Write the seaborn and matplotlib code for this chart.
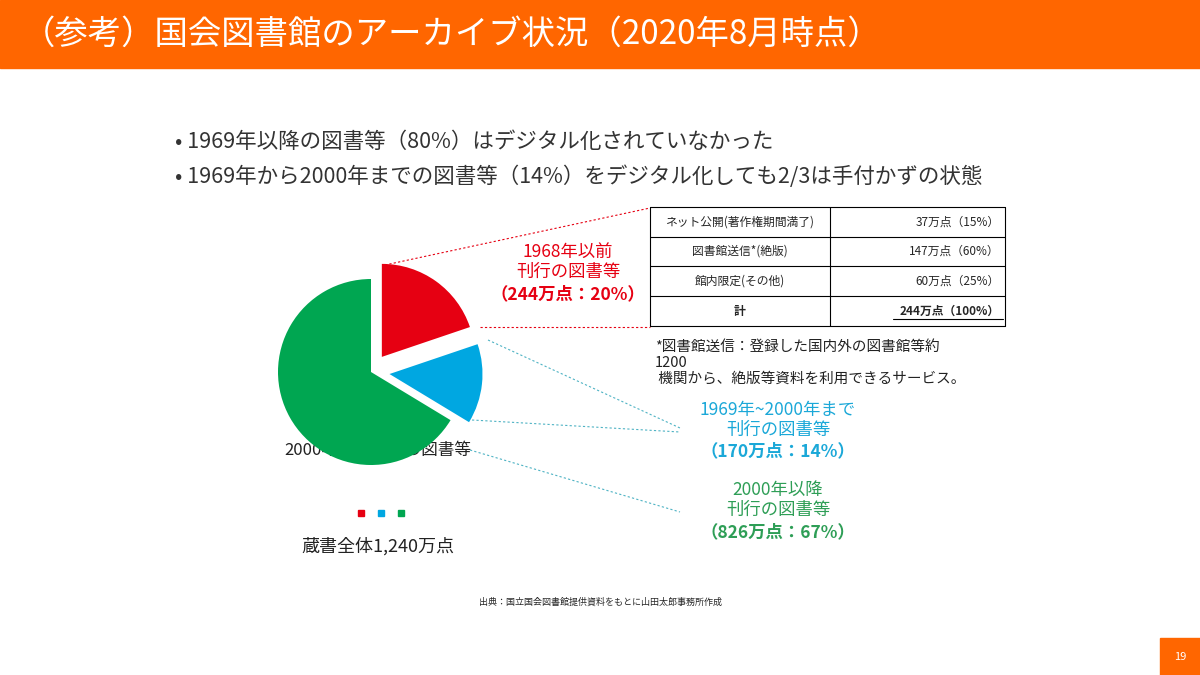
import matplotlib.pyplot as plt
import seaborn as sns
from matplotlib.patches import Rectangle

sns.set_theme(style="white")
plt.rcParams['font.family'] = ['Noto Sans CJK JP', 'DejaVu Sans']

# data
categories = ['1968年以前刊行の図書等', '1969年~2000年まで刊行の図書等', '2000年以降刊行の図書等']
shares = [20, 14, 67]
counts = [244, 170, 826]
colors = ['#E60012', '#00A7E1', '#00A651']
table_rows = ['ネット公開(著作権期間満了)', '図書館送信*(絶版)', '館内限定(その他)', '計']
table_vals = ['37万点（15%）', '147万点（60%）', '60万点（25%）', '244万点（100%）']

W, H = 1200, 675
fig = plt.figure(figsize=(12, 6.75), dpi=100)
bg = fig.add_axes([0, 0, 1, 1])
bg.set_xlim(0, W)
bg.set_ylim(H, 0)
bg.axis('off')

# title bar
bg.add_patch(Rectangle((0, 0), W, 68, color='#FF6600'))
bg.text(22, 34, '（参考）国会図書館のアーカイブ状況（2020年8月時点）', color='white',
        fontsize=24, va='center')
bg.add_patch(Rectangle((1160, 638), 40, 37, color='#FF6600'))
bg.text(1180, 657, '19', color='white', fontsize=8, ha='center', va='center')

bg.text(175, 142, '• 1969年以降の図書等（80%）はデジタル化されていなかった', fontsize=15.5, va='center', color='#333333')
bg.text(175, 177, '• 1969年から2000年までの図書等（14%）をデジタル化しても2/3は手付かずの状態', fontsize=15.5, va='center', color='#333333')

# pie
R = 93
cx, cy = 371, 372
side = 2.5 * R
pax = fig.add_axes([(cx - side / 2) / W, (H - cy - side / 2) / H, side / W, side / H])
pax.pie(shares, colors=colors, startangle=90, counterclock=False,
        explode=[0.2, 0.2, 0], wedgeprops=dict(linewidth=0))
pax.set_aspect('auto')

# connector lines
bg.plot([385, 650], [265, 208], ls=(0, (2, 2)), color=colors[0], lw=0.8)
bg.plot([480, 650], [327, 327], ls=(0, (2, 2)), color=colors[0], lw=0.8)
bg.plot([488, 680], [340, 428], ls=(0, (2, 2)), color='#4FB3C4', lw=0.8)
bg.plot([472, 680], [420, 432], ls=(0, (2, 2)), color='#4FB3C4', lw=0.8)
bg.plot([470, 680], [450, 512], ls=(0, (2, 2)), color='#4FB3C4', lw=0.8)

# labels
bg.text(568, 262, '1968年以前\n刊行の図書等', color=colors[0], fontsize=12.5, ha='center', va='center', linespacing=1.2)
bg.text(568, 294, f'（{counts[0]}万点：{shares[0]}%）', color=colors[0], fontsize=12.5, ha='center', va='center', weight='bold')
bg.text(778, 420, '1969年~2000年まで\n刊行の図書等', color='#1BA8D8', fontsize=12.5, ha='center', va='center', linespacing=1.15)
bg.text(778, 451, f'（{counts[1]}万点：{shares[1]}%）', color='#1BA8D8', fontsize=12.5, ha='center', va='center', weight='bold')
bg.text(778, 500, '2000年以降\n刊行の図書等', color='#2E9E56', fontsize=12.5, ha='center', va='center', linespacing=1.15)
bg.text(778, 532, f'（{counts[2]}万点：{shares[2]}%）', color='#2E9E56', fontsize=12.5, ha='center', va='center', weight='bold')
bg.text(378, 451, '2000年以降刊行の図書等', fontsize=12, ha='center', va='center', color='#222222')

# legend squares
for i, c in enumerate(colors):
    bg.add_patch(Rectangle((358 + 20 * i, 510), 6, 6, color=c))
bg.text(378, 546, '蔵書全体1,240万点', fontsize=13, ha='center', va='center', color='#222222')

# table
ys = [207, 237, 266, 296, 326]
for y in ys:
    bg.plot([650, 1005], [y, y], color='black', lw=0.8)
for x in [650, 830, 1005]:
    bg.plot([x, x], [ys[0], ys[-1]], color='black', lw=0.8)
for i, (r, v) in enumerate(zip(table_rows, table_vals)):
    yc = (ys[i] + ys[i + 1]) / 2
    last = i == len(table_rows) - 1
    bg.text(740, yc, r, fontsize=8.5, ha='center', va='center', weight='bold' if last else 'normal')
    bg.text(1000, yc, v, fontsize=8.5, ha='right', va='center', weight='bold' if last else 'normal')
    if last:
        bg.plot([893, 1003], [yc + 8, yc + 8], color='black', lw=0.8)

bg.text(655, 340, '*図書館送信：登録した国内外の図書館等約\n1200\n 機関から、絶版等資料を利用できるサービス。',
        fontsize=10.5, va='top', linespacing=1.15, color='#222222')

bg.text(600, 602, '出典：国立国会図書館提供資料をもとに山田太郎事務所作成', fontsize=6.5, ha='center', va='center')

fig.savefig('out.png', dpi=100)
